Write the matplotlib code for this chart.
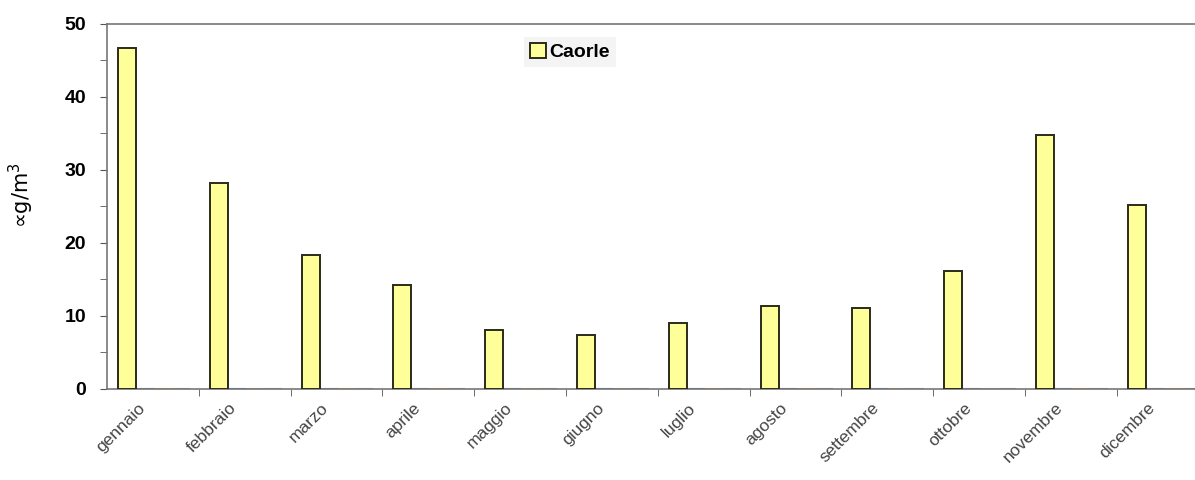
import numpy as np
import matplotlib.pyplot as plt

plt.rcParams['font.family'] = ['Liberation Sans', 'DejaVu Sans']

# monthly means
mesi = ['gennaio', 'febbraio', 'marzo', 'aprile', 'maggio', 'giugno',
        'luglio', 'agosto', 'settembre', 'ottobre', 'novembre', 'dicembre']
caorle = [46.7, 28.2, 18.4, 14.2, 8.1, 7.4, 9.0, 11.4, 11.1, 16.2, 34.8, 25.2]
# the other series are empty (zero) in the original chart
vuoti = [np.zeros(12), np.zeros(12), np.zeros(12)]
vuoti_colori = ['#4a7ebb', '#e0a060', '#999999']

fig = plt.figure(figsize=(11.95, 4.8), dpi=100)
ax = fig.add_axes([0.0895, 0.1896, 0.922, 0.7604])

x = np.arange(len(mesi))
w = 0.196
ax.bar(x - 0.283, caorle, w, color='#ffff99', edgecolor='#2b2b1a',
       linewidth=1.4, label='Caorle', zorder=3)
for k, (v, c) in enumerate(zip(vuoti, vuoti_colori)):
    ax.bar(x - 0.283 + (k + 1) * w, v, w, color=c, edgecolor=c,
           linewidth=1.5, zorder=2)

ax.set_xlim(-0.5, 11.5)
ax.set_ylim(0, 50)

#y axis
ax.set_yticks(range(0, 51, 10))
ax.set_yticks(range(5, 50, 10), minor=True)
for t in ax.get_yticklabels():
    t.set_fontweight('bold')
ax.tick_params(axis='y', which='both', labelsize=14, length=5,
               color='#555555', direction='out', pad=10)
ax.set_ylabel('∝g/m$^3$', fontsize=15, family=['DejaVu Sans'])
ax.yaxis.set_label_coords(-0.064, 0.53)

#x axis: ticks at boundaries, labels near bars
ax.set_xticks(x - 0.17)
ax.set_xticklabels(mesi, rotation=45, ha='right', rotation_mode='anchor',
                   fontsize=12.5, color='#444444')
ax.set_xticks(np.arange(0.5, 11.5, 1), minor=True)
ax.tick_params(axis='x', which='major', length=0, pad=8)
ax.tick_params(axis='x', which='minor', length=5, color='#555555')

for s in ['left', 'top', 'bottom']:
    ax.spines[s].set_color('#777777')
    ax.spines[s].set_linewidth(1.2)
ax.spines['right'].set_visible(False)

leg = ax.legend(loc='upper left', bbox_to_anchor=(0.37, 0.99),
                prop={'weight': 'bold', 'size': 14}, handlelength=0.8,
                handleheight=0.8, handletextpad=0.2, borderpad=0.3,
                facecolor='#f4f4f4', edgecolor='none', framealpha=1,
                fancybox=False)

fig.savefig('out.png', dpi=100)
